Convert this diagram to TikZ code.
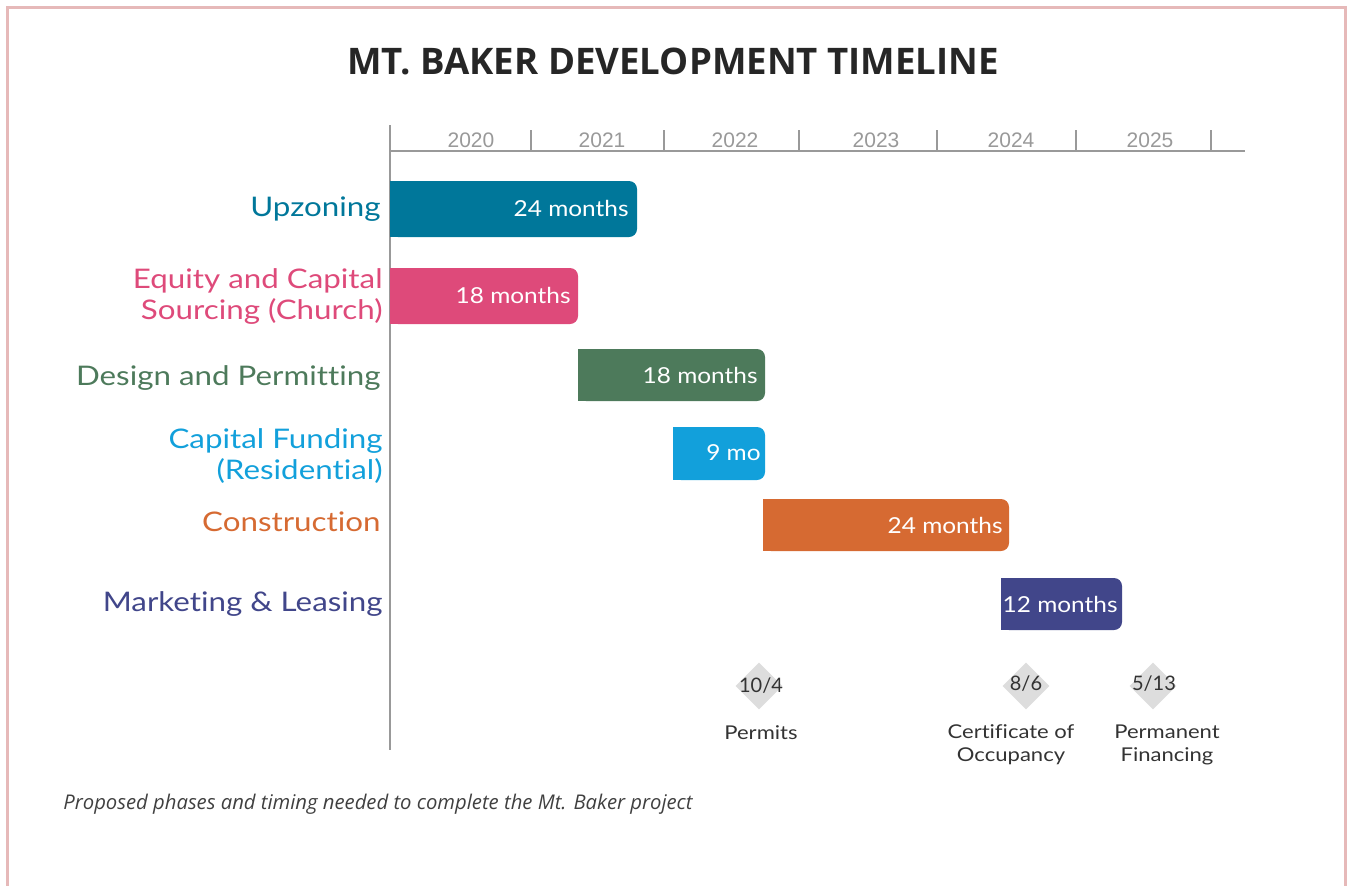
\documentclass[tikz,border=0pt]{standalone}
\usepackage{fontspec}
\setmainfont{Lato}
\newfontfamily\avfont[FakeStretch=1.16,Ligatures=NoCommon]{Lato}
\newfontfamily\avbar[FakeStretch=1.11]{Lato}
\newfontfamily\titlefont{Open Sans}
\newfontfamily\yearfont{Liberation Sans}
\definecolor{cTeal}{HTML}{00779A}
\definecolor{cPink}{HTML}{DE4A7A}
\definecolor{cGreen}{HTML}{4D7A5B}
\definecolor{cBlue}{HTML}{12A0DB}
\definecolor{cOrange}{HTML}{D66A32}
\definecolor{cPurple}{HTML}{41468A}
\definecolor{cFrame}{HTML}{E6B9B9}
\definecolor{cAxis}{HTML}{999999}
\definecolor{cDia}{HTML}{DDDDDD}
\definecolor{cDark}{HTML}{333333}
\usetikzlibrary{shapes.geometric}
\tikzset{
  rowlabel/.style={anchor=east, align=right, font=\avfont\fontsize{13.5}{15.5}\selectfont, inner sep=0pt},
  bartext/.style={anchor=east, text=white, font=\avbar\fontsize{11}{13}\selectfont, inner sep=0pt},
  year/.style={text=cAxis, font=\yearfont\fontsize{10.5}{12}\selectfont, inner sep=0pt},
  axisline/.style={draw=cAxis, line width=0.75pt},
  milestone/.style={diamond, fill=cDia, minimum width=23.5pt, minimum height=23.5pt, inner sep=0pt},
  mdate/.style={text=cDark, font=\fontsize{10}{12}\selectfont, inner sep=0pt},
  mlabel/.style={text=cDark, align=center, font=\avfont\fontsize{9.5}{11.5}\selectfont, inner sep=0pt},
}
\begin{document}
\begin{tikzpicture}[x=0.5pt,y=-0.5pt]
\useasboundingbox (0,0) rectangle (1348,885);
% frame
\draw[cFrame, line width=1.5pt] (7,900) -- (7,7) -- (1345,7) -- (1345,900);
% title
\node[font=\titlefont\bfseries\fontsize{18.3}{22}\selectfont, text=black!85] (title) at (673,61) {MT. BAKER DEVELOPMENT TIMELINE};
% axes
\coordinate (axTop) at (390,125);
\coordinate (axBot) at (390,750);
\coordinate (hxL) at (390,151);
\coordinate (hxR) at (1245,151);
\draw[axisline] (axTop) -- (axBot);
\draw[axisline] (hxL) -- (hxR);
\foreach \x/\n in {531/t1,664/t2,799/t3,937/t4,1076/t5,1211/t6}{
  \coordinate (\n a) at (\x,130);
  \coordinate (\n b) at (\x,151);
  \draw[axisline] (\n a) -- (\n b);
}
\node[year] (y2020) at (471,140) {2020};
\node[year] (y2021) at (602,140) {2021};
\node[year] (y2022) at (735,140) {2022};
\node[year] (y2023) at (876,140) {2023};
\node[year] (y2024) at (1011,140) {2024};
\node[year] (y2025) at (1150,140) {2025};
% bars
\fill[cTeal, rounded corners=4pt] (390,181) rectangle (637,237);
\fill[cTeal] (390,181) rectangle (500,237);
\node[bartext] (b1) at (629,208) {24 months};
\fill[cPink, rounded corners=4pt] (390,268) rectangle (578,324);
\fill[cPink] (390,268) rectangle (480,324);
\node[bartext] (b2) at (571,295) {18 months};
\fill[cGreen, rounded corners=4pt] (578,349) rectangle (765,401);
\fill[cGreen] (578,349) rectangle (680,401);
\node[bartext] (b3) at (758,375) {18 months};
\fill[cBlue, rounded corners=4pt] (673,427) rectangle (765,480);
\fill[cBlue] (673,427) rectangle (720,480);
\node[bartext] (b4) at (761,453) {9 mo};
\fill[cOrange, rounded corners=4pt] (763,499) rectangle (1009,551);
\fill[cOrange] (763,499) rectangle (900,551);
\node[bartext] (b5) at (1003,525) {24 months};
\fill[cPurple, rounded corners=4pt] (1001,578) rectangle (1122,630);
\fill[cPurple] (1001,578) rectangle (1060,630);
\node[bartext] (b6) at (1118,604) {12 months};
% row labels
\node[rowlabel, text=cTeal] (l1) at (381,209) {Upzoning};
\node[rowlabel, text=cPink] (l2) at (383,297) {Equity and Capital\\Sourcing (Church)};
\node[rowlabel, text=cGreen] (l3) at (381,378) {Design and Permitting};
\node[rowlabel, text=cBlue] (l4) at (383,456) {Capital Funding\\(Residential)};
\node[rowlabel, text=cOrange] (l5) at (381,522) {Construction};
\node[rowlabel, text=cPurple] (l6) at (383,604) {Marketing \& Leasing};
% milestones
\node[milestone] (m1) at (759,686) {};
\node[milestone] (m2) at (1026,686) {};
\node[milestone] (m3) at (1153,686) {};
\node[mdate] (d1) at (761,686) {10/4};
\node[mdate] (d2) at (1026,684) {8/6};
\node[mdate] (d3) at (1154,684) {5/13};
\node[mlabel] (p1) at (761,733) {Permits};
\node[mlabel] (p2) at (1011,745) {Certificate of\\Occupancy};
\node[mlabel] (p3) at (1167,745) {Permanent\\Financing};
% caption
\node[anchor=west, inner sep=0pt, text=black!75, font=\titlefont\itshape\fontsize{10.13}{12}\selectfont] (cap) at (63,804) {Proposed phases and timing needed to complete the Mt. Baker project};
\end{tikzpicture}
\end{document}
